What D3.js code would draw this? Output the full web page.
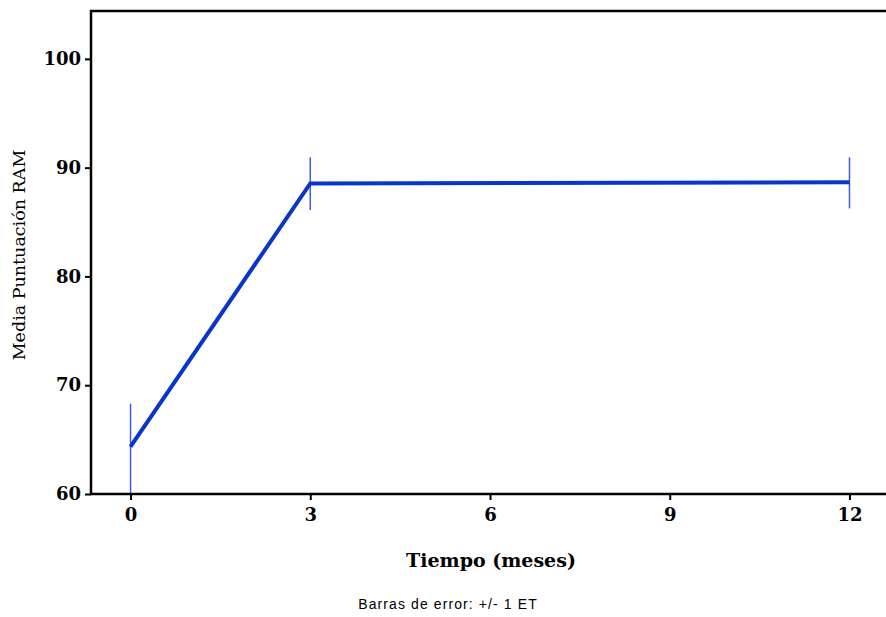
<!DOCTYPE html>
<html>
<head>
<meta charset="utf-8">
<script src="https://cdn.jsdelivr.net/npm/d3@7"></script>
<style>
  body { margin: 0; background: #fff; }
</style>
</head>
<body>
<div id="chart"></div>
<script>
// Data.
const months = [0, 3, 12];
const means = [64.35, 88.55, 88.65];
const errLow = [59.5, 86.1, 86.25];
const errHigh = [68.3, 90.95, 90.95];
const xTicks = [0, 3, 6, 9, 12];
const yTicks = [60, 70, 80, 90, 100];

const lineColor = "#0a35cc";
const barColor = "#3a5ee0";
const serif = "'DejaVu Serif', serif";

const W = 886, H = 617;

const svg = d3.select("#chart")
  .append("svg")
    .attr("width", W)
    .attr("height", H);

// Scales.
const x = d3.scaleLinear()
  .domain([-0.66, 12.66])
  .range([91, 889]);

const y = d3.scaleLinear()
  .domain([60, 104.4])
  .range([494, 11]);

// Clip to plot area.
svg.append("clipPath")
    .attr("id", "plot")
  .append("rect")
    .attr("x", 91)
    .attr("y", 11)
    .attr("width", 800)
    .attr("height", 483);

// Error bars.
svg.append("g")
    .attr("clip-path", "url(#plot)")
  .selectAll("line")
  .data(months)
  .join("line")
    .attr("x1", d => x(d))
    .attr("x2", d => x(d))
    .attr("y1", (d, i) => y(errLow[i]))
    .attr("y2", (d, i) => y(errHigh[i]))
    .attr("stroke", barColor)
    .attr("stroke-width", 1.5);

// The mean line.
svg.append("path")
    .datum(months)
    .attr("d", d3.line()
      .x(d => x(d))
      .y((d, i) => y(means[i]))
    )
    .attr("fill", "none")
    .attr("stroke", lineColor)
    .attr("stroke-width", 4);

// Axes.
const yAxis = svg.append("g")
    .attr("transform", "translate(91,0)")
    .call(d3.axisLeft(y).tickValues(yTicks).tickSize(6).tickPadding(4))
    .call(g => g.select(".domain").remove());

const xAxis = svg.append("g")
    .attr("transform", "translate(0,494)")
    .call(d3.axisBottom(x).tickValues(xTicks).tickSize(6).tickPadding(8))
    .call(g => g.select(".domain").remove());

[yAxis, xAxis].forEach(g => {
  g.selectAll(".tick line").attr("stroke", "#000").attr("stroke-width", 2);
  g.selectAll(".tick text")
    .attr("fill", "#000")
    .style("font-family", serif)
    .style("font-weight", "700")
    .style("font-size", "18px");
});

// Frame: left, top and bottom.
svg.append("path")
    .attr("d", "M" + (W + 2) + "," + y(104.4) + "H" + x(-0.66) + "V" + y(60) + "H" + (W + 2))
    .attr("fill", "none")
    .attr("stroke", "#000")
    .attr("stroke-width", 2.5);

// Axis titles.
svg.append("text")
    .attr("transform", "translate(25,255) rotate(-90)")
    .attr("text-anchor", "middle")
    .style("font-family", serif)
    .style("font-size", "17.5px")
    .text("Media Puntuación RAM");

svg.append("text")
    .attr("x", 491)
    .attr("y", 567)
    .attr("text-anchor", "middle")
    .style("font-family", serif)
    .style("font-weight", "700")
    .style("font-size", "19px")
    .text("Tiempo (meses)");

svg.append("text")
    .attr("x", 448)
    .attr("y", 609)
    .attr("text-anchor", "middle")
    .style("font-family", "'Liberation Sans', Arial, sans-serif")
    .style("font-size", "14px")
    .style("letter-spacing", "1.1px")
    .text("Barras de error: +/- 1 ET");
</script>
</body>
</html>
